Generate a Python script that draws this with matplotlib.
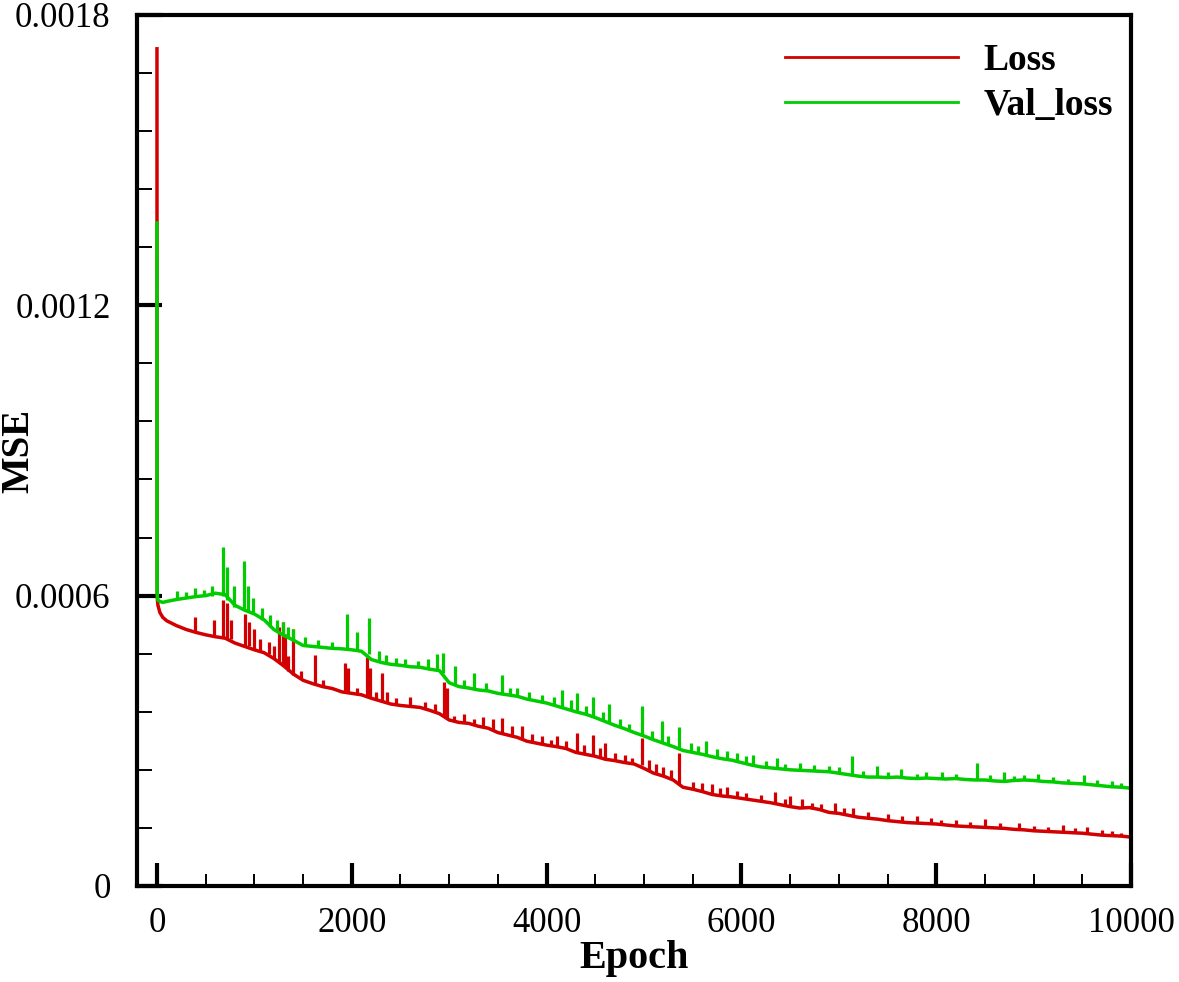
import matplotlib
matplotlib.use('Agg')
import matplotlib.pyplot as plt
from matplotlib.ticker import MultipleLocator
import numpy as np

# epochs (dense at the very start)
epochs = [0, 1, 2, 5, 10, 30, 60] + list(range(100, 10001, 100))

# values, in units of 1e-4
loss = [17.3, 8.3, 6.1, 5.9, 5.8, 5.65, 5.55,
        5.48, 5.38, 5.30, 5.24, 5.19, 5.15, 5.12, 5.02, 4.95, 4.88,
        4.82, 4.70, 4.55, 4.38, 4.25, 4.18, 4.12, 4.08, 4.01, 3.98,
        3.95, 3.88, 3.82, 3.76, 3.73, 3.71, 3.69, 3.63, 3.56, 3.43,
        3.38, 3.36, 3.30, 3.26, 3.17, 3.12, 3.07, 2.99, 2.95, 2.91,
        2.88, 2.84, 2.76, 2.72, 2.68, 2.62, 2.59, 2.55, 2.52, 2.43,
        2.33, 2.27, 2.19, 2.04, 2.00, 1.95, 1.89, 1.86, 1.84, 1.81,
        1.78, 1.75, 1.72, 1.68, 1.64, 1.61, 1.62, 1.58, 1.52, 1.50,
        1.46, 1.42, 1.40, 1.38, 1.35, 1.33, 1.31, 1.30, 1.29, 1.28,
        1.26, 1.24, 1.23, 1.22, 1.21, 1.20, 1.19, 1.17, 1.16, 1.14,
        1.13, 1.12, 1.11, 1.10, 1.09, 1.07, 1.05, 1.04, 1.03, 1.01]

val_loss = [13.7, 8.05, 6.1, 5.95, 5.9, 5.88, 5.86,
            5.88, 5.92, 5.95, 5.98, 6.00, 6.05, 6.02, 5.80, 5.70, 5.62,
            5.50, 5.30, 5.18, 5.08, 4.97, 4.95, 4.93, 4.91, 4.90, 4.88,
            4.85, 4.68, 4.62, 4.58, 4.56, 4.53, 4.52, 4.48, 4.45, 4.20,
            4.12, 4.09, 4.05, 4.03, 3.98, 3.95, 3.92, 3.86, 3.82, 3.78,
            3.72, 3.66, 3.60, 3.55, 3.48, 3.40, 3.32, 3.25, 3.17, 3.10,
            3.02, 2.95, 2.88, 2.80, 2.76, 2.72, 2.67, 2.63, 2.60, 2.55,
            2.50, 2.46, 2.44, 2.42, 2.40, 2.39, 2.38, 2.37, 2.36, 2.33,
            2.30, 2.27, 2.25, 2.25, 2.24, 2.25, 2.23, 2.22, 2.23, 2.22,
            2.21, 2.22, 2.20, 2.19, 2.19, 2.17, 2.16, 2.18, 2.19, 2.18,
            2.16, 2.15, 2.13, 2.12, 2.11, 2.09, 2.07, 2.05, 2.04, 2.02]

# spikes: epoch, bottom, top (1e-4)
loss_spike_ep = [390, 590, 680, 720, 760, 905, 940, 1000, 1060, 1150, 1200, 1250,
                 1290, 1310, 1350, 1400, 1480, 1620, 1700, 1930, 1960, 2050, 2160,
                 2190, 2250, 2310, 2360, 2450, 2600, 2750, 2850, 2950, 2980, 3050,
                 3150, 3250, 3350, 3450, 3543, 3650, 3750, 3850, 3950, 4050, 4110,
                 4200, 4313, 4380, 4478, 4550, 4600, 4700, 4800, 4880, 4980, 5050,
                 5120, 5200, 5280, 5360, 5500, 5600, 5700, 5780, 5850, 5950, 6050,
                 6200, 6350, 6450, 6500, 6620, 6720, 6820, 6960, 7050, 7150, 7300,
                 7500, 7650, 7800, 7950, 8050, 8200, 8350, 8500, 8650, 8850, 9000,
                 9150, 9300, 9420, 9550, 9700, 9800, 9900]
loss_spike_lo = [5.25, 5.15, 5.15, 5.10, 5.10, 4.95, 4.95, 4.88, 4.85, 4.80, 4.70, 4.62,
                 4.55, 4.55, 4.45, 4.35, 4.28, 4.15, 4.12, 4.00, 4.00, 3.97, 3.90,
                 3.88, 3.85, 3.82, 3.80, 3.75, 3.71, 3.66, 3.60, 3.50, 3.45, 3.40,
                 3.37, 3.34, 3.28, 3.22, 3.15, 3.10, 3.05, 2.97, 2.93, 2.90, 2.88,
                 2.84, 2.75, 2.73, 2.70, 2.65, 2.62, 2.59, 2.55, 2.53, 2.50, 2.38,
                 2.32, 2.27, 2.21, 2.10, 2.00, 1.95, 1.88, 1.87, 1.85, 1.83, 1.80,
                 1.75, 1.70, 1.66, 1.64, 1.61, 1.60, 1.57, 1.51, 1.48, 1.45, 1.40,
                 1.35, 1.32, 1.30, 1.29, 1.27, 1.24, 1.23, 1.21, 1.20, 1.16, 1.14,
                 1.13, 1.11, 1.10, 1.08, 1.05, 1.04, 1.03]
loss_spike_hi = [5.55, 5.50, 5.90, 5.85, 5.50, 5.63, 5.45, 5.30, 5.10, 5.05, 4.95, 5.35,
                 5.45, 5.20, 4.75, 5.32, 4.45, 4.77, 4.25, 4.60, 4.50, 4.10, 4.73,
                 4.50, 4.00, 4.40, 4.00, 3.88, 3.90, 3.80, 3.75, 4.21, 4.10, 3.52,
                 3.55, 3.45, 3.50, 3.45, 3.47, 3.30, 3.30, 3.15, 3.10, 3.02, 3.10,
                 3.00, 3.16, 2.92, 3.12, 2.85, 2.95, 2.75, 2.70, 2.65, 3.05, 2.60,
                 2.52, 2.45, 2.40, 2.74, 2.15, 2.12, 2.10, 2.02, 2.05, 1.97, 1.92,
                 1.88, 1.95, 1.80, 1.85, 1.80, 1.72, 1.70, 1.71, 1.62, 1.62, 1.52,
                 1.48, 1.45, 1.45, 1.40, 1.37, 1.36, 1.33, 1.38, 1.30, 1.30, 1.24,
                 1.22, 1.27, 1.19, 1.22, 1.15, 1.14, 1.10]

val_spike_ep = [210, 300, 390, 480, 560, 680, 720, 790, 893, 930, 990, 1080, 1160,
                1230, 1290, 1350, 1400, 1520, 1650, 1800, 1951, 2050, 2177, 2280,
                2350, 2450, 2550, 2680, 2780, 2880, 2937, 3060, 3150, 3250, 3380,
                3543, 3620, 3700, 3820, 3950, 4080, 4160, 4250, 4310, 4400, 4478,
                4580, 4640, 4750, 4850, 4980, 5080, 5180, 5250, 5360, 5480, 5550,
                5640, 5750, 5850, 5950, 6050, 6120, 6250, 6370, 6450, 6600, 6750,
                6900, 7000, 7138, 7250, 7390, 7500, 7640, 7800, 7900, 8060, 8200,
                8421, 8550, 8700, 8800, 8900, 9050, 9200, 9350, 9520, 9650, 9800,
                9900]
val_spike_lo = [5.92, 5.95, 5.97, 6.00, 6.00, 6.00, 5.90, 5.76, 5.70, 5.68, 5.62, 5.50,
                5.35, 5.28, 5.20, 5.12, 5.08, 4.97, 4.94, 4.91, 4.90, 4.87, 4.80,
                4.62, 4.60, 4.57, 4.55, 4.52, 4.48, 4.45, 4.40, 4.18, 4.10, 4.08,
                4.04, 3.97, 3.94, 3.92, 3.85, 3.80, 3.73, 3.70, 3.63, 3.60, 3.55,
                3.50, 3.42, 3.38, 3.28, 3.21, 3.10, 3.04, 2.96, 2.92, 2.82, 2.77,
                2.74, 2.70, 2.65, 2.62, 2.58, 2.53, 2.50, 2.45, 2.43, 2.41, 2.39,
                2.38, 2.36, 2.33, 2.29, 2.26, 2.25, 2.24, 2.25, 2.22, 2.23, 2.21,
                2.22, 2.19, 2.18, 2.16, 2.18, 2.19, 2.18, 2.15, 2.13, 2.11, 2.08,
                2.05, 2.04]
val_spike_hi = [6.10, 6.08, 6.15, 6.12, 6.20, 7.00, 6.60, 6.20, 6.71, 6.20, 5.95, 5.75,
                5.60, 5.50, 5.45, 5.35, 5.30, 5.15, 5.08, 5.05, 5.61, 5.25, 5.53,
                4.85, 4.78, 4.72, 4.68, 4.65, 4.70, 4.80, 4.81, 4.55, 4.25, 4.40,
                4.20, 4.36, 4.10, 4.10, 4.00, 3.95, 3.90, 4.05, 3.85, 3.98, 3.72,
                3.90, 3.60, 3.75, 3.45, 3.35, 3.72, 3.20, 3.40, 3.10, 3.28, 2.95,
                2.90, 3.00, 2.82, 2.78, 2.75, 2.68, 2.70, 2.58, 2.65, 2.52, 2.55,
                2.50, 2.48, 2.45, 2.68, 2.38, 2.48, 2.35, 2.42, 2.32, 2.35, 2.36,
                2.32, 2.54, 2.30, 2.35, 2.28, 2.30, 2.32, 2.25, 2.22, 2.30, 2.18,
                2.17, 2.12]

red = '#d20000'
green = '#00cc00'
scale = 1e-4

plt.rcParams['font.family'] = ['Liberation Serif', 'DejaVu Serif']

fig = plt.figure(figsize=(11.79, 9.82), dpi=100)
ax = fig.add_axes([0.1162, 0.0978, 0.8431, 0.8870])

ax.plot(epochs, np.array(loss) * scale, color=red, lw=2.5, label='Loss')
ax.vlines(loss_spike_ep, np.array(loss_spike_lo) * scale, np.array(loss_spike_hi) * scale,
          color=red, lw=2.3)
ax.plot(epochs, np.array(val_loss) * scale, color=green, lw=2.5, label='Val_loss')
ax.vlines(val_spike_ep, np.array(val_spike_lo) * scale, np.array(val_spike_hi) * scale,
          color=green, lw=2.3)

ax.set_xlim(-205, 10000)
ax.set_ylim(0, 0.0018)

ax.set_xticks([0, 2000, 4000, 6000, 8000, 10000])
ax.set_xticklabels(['0', '2000', '4000', '6000', '8000', '10000'])
ax.set_yticks([0, 0.0006, 0.0012, 0.0018])
ax.set_yticklabels(['0', '0.0006', '0.0012', '0.0018'])
ax.xaxis.set_minor_locator(MultipleLocator(500))
ax.yaxis.set_minor_locator(MultipleLocator(0.00012))

ax.tick_params(axis='x', which='major', direction='in', length=16.5, width=3, pad=15, labelsize=25)
ax.tick_params(axis='x', which='minor', direction='in', length=8.6, width=1.4)
ax.tick_params(axis='y', which='major', direction='in', length=18, width=3, pad=19, labelsize=25)
ax.tick_params(axis='y', which='minor', direction='in', length=10.5, width=1.4)

for s in ax.spines.values():
    s.set_linewidth(3)

ax.set_xlabel('Epoch', fontsize=29, fontweight='bold')
ax.xaxis.set_label_coords(0.5, -0.062)
ax.set_ylabel('MSE', fontsize=28, fontweight='bold')
ax.yaxis.set_label_coords(-0.1, 0.5)

leg = ax.legend(loc='upper left', bbox_to_anchor=(0.652, 0.968), frameon=False,
                handlelength=4.6, handletextpad=0.7, labelspacing=0.28,
                borderpad=0, borderaxespad=0,
                prop={'family': 'Liberation Serif', 'weight': 'bold', 'size': 27})
for h in leg.get_lines():
    h.set_linewidth(2)

fig.savefig('out.png', dpi=100)
